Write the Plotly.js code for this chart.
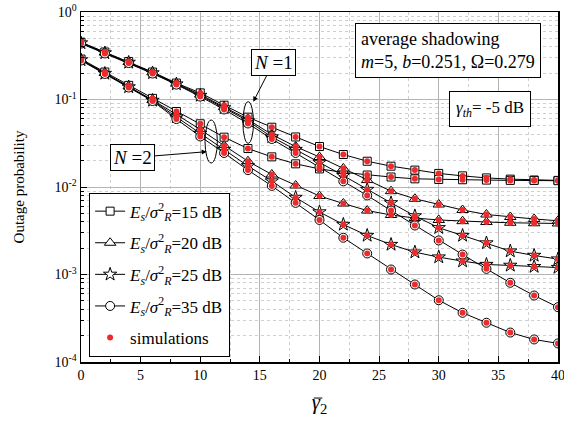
<!DOCTYPE html>
<html>
<head>
<meta charset="utf-8">
<script src="https://cdn.plot.ly/plotly-3.0.1.min.js"></script>
<style>html,body{margin:0;padding:0;background:#fff;}#chart{width:564px;height:425px;}</style>
</head>
<body>
<div id="chart"></div>
<script>
// average SNR of second hop (dB)
const gammaBar = [0,2,4,6,8,10,12,14,16,18,20,22,24,26,28,30,32,34,36,38,40];

// N = 1
const n1_15dB = [0.452,0.349,0.272,0.206,0.154,0.119,0.0861,0.0628,0.0482,0.0373,0.0290,0.0235,0.0197,0.0173,0.0156,0.0143,0.0134,0.0127,0.0123,0.0120,0.0119];
const n1_20dB = [0.448,0.344,0.268,0.204,0.152,0.114,0.0821,0.0591,0.0398,0.0290,0.0220,0.0163,0.0120,0.00896,0.00733,0.00631,0.00546,0.00485,0.00454,0.00431,0.00411];
const n1_25dB = [0.442,0.340,0.265,0.201,0.150,0.111,0.0800,0.0568,0.0373,0.0268,0.0191,0.0135,0.00936,0.00659,0.00467,0.00342,0.00279,0.00229,0.00185,0.00165,0.00150];
const n1_35dB = [0.436,0.336,0.261,0.198,0.148,0.108,0.0769,0.0532,0.0354,0.0245,0.0169,0.0116,0.00800,0.00538,0.00363,0.00245,0.00169,0.00116,0.000804,0.000575,0.000423];

// N = 2
const n2_15dB = [0.290,0.206,0.145,0.103,0.0729,0.0528,0.0371,0.0275,0.0221,0.0184,0.0161,0.0147,0.0137,0.0130,0.0124,0.0122,0.0121,0.0120,0.0119,0.0119,0.0118];
const n2_20dB = [0.286,0.201,0.141,0.0987,0.0674,0.0454,0.0298,0.0197,0.0139,0.0104,0.00789,0.00648,0.00538,0.00479,0.00442,0.00420,0.00407,0.00398,0.00390,0.00385,0.00383];
const n2_25dB = [0.283,0.198,0.139,0.0975,0.0631,0.0409,0.0268,0.0174,0.0117,0.00759,0.00518,0.00373,0.00279,0.00220,0.00180,0.00158,0.00142,0.00130,0.00127,0.00123,0.00120];
const n2_35dB = [0.279,0.196,0.137,0.0961,0.0598,0.0378,0.0245,0.0156,0.0103,0.00659,0.00420,0.00263,0.00174,0.00114,0.000769,0.000508,0.000365,0.000281,0.000217,0.000181,0.000163];

const snrLabels = ['15','20','25','35'];
const yTickVals = [1e-4,1e-3,1e-2,1e-1,1];
const yTickText = ['10<sup>-4</sup>','10<sup>-3</sup>','10<sup>-2</sup>','10<sup>-1</sup>','10<sup>0</sup>'];
const xTickVals = [0,5,10,15,20,25,30,35,40];
const xTickText = ['0','5','10','15','20','25','30','35','40'];

const symbols = ['square','triangle-up','star','circle'];
const sizes = [8,10,10,9];
const n1 = [n1_15dB,n1_20dB,n1_25dB,n1_35dB];
const n2 = [n2_15dB,n2_20dB,n2_25dB,n2_35dB];

function legName(s){
  return '<i>E</i><sub><i>s</i></sub>/<i>σ</i><sup>2</sup><sub><i>R</i></sub>=' + s + ' dB';
}

const traces = [];
for (let i=0;i<4;i++){
  [n1[i], n2[i]].forEach((ys,k)=>{
    traces.push({
      x: gammaBar, y: ys, type:'scatter', mode:'lines+markers',
      name: legName(snrLabels[i]), legendgroup:'g'+i, showlegend: k===0,
      line:{color:'#000',width:1},
      marker:{symbol:symbols[i],size:sizes[i],color:'#fff',line:{color:'#000',width:1}}
    });
  });
}
const allCurves = n1.concat(n2);
allCurves.forEach((ys,j)=>{
  traces.push({
    x: gammaBar, y: ys, type:'scatter', mode:'markers',
    name:'simulations', legendgroup:'sim', showlegend: j===0,
    marker:{symbol:'circle',size:6,color:'#ee2a2a',line:{width:0}}
  });
});

const serif = '"Liberation Serif", serif';
const layout = {
  width:564, height:425,
  margin:{l:81,r:6,t:12,b:63},
  paper_bgcolor:'#fff', plot_bgcolor:'#fff',
  font:{family:serif,color:'#000',size:14},
  showlegend:true,
  legend:{x:0.017,y:0.484,xanchor:'left',yanchor:'top',bgcolor:'#fff',bordercolor:'#000',borderwidth:1,
          font:{family:serif,size:17},tracegroupgap:6.5,traceorder:'grouped'},
  xaxis:{range:[0,40.001],tickmode:'array',tickvals:xTickVals,ticktext:xTickText,ticks:'inside',ticklen:6,tickwidth:1,tickcolor:'#000',
         ticklabeloverflow:'allow',
         showline:true,linecolor:'#000',linewidth:1.5,mirror:true,zeroline:false,
         showgrid:true,gridcolor:'#b4b4b4',gridwidth:1,
         minor:{dtick:2.5,tick0:0,ticks:'inside',ticklen:3,tickcolor:'#000',showgrid:true,gridcolor:'#cfcfcf',griddash:'dot'},
         tickfont:{size:14,family:serif},
         title:{text:'<i>γ</i><sub>2</sub>',font:{size:21,family:serif},standoff:12}},
  yaxis:{type:'log',range:[-4,0],tickvals:yTickVals,ticktext:yTickText,ticks:'inside',ticklen:6,tickwidth:1,tickcolor:'#000',
         showline:true,linecolor:'#000',linewidth:1.5,mirror:true,zeroline:false,
         showgrid:true,gridcolor:'#b4b4b4',gridwidth:1,
         minor:{tickmode:'array',tickvals:[2e-4,3e-4,4e-4,5e-4,6e-4,7e-4,8e-4,9e-4,2e-3,3e-3,4e-3,5e-3,6e-3,7e-3,8e-3,9e-3,2e-2,3e-2,4e-2,5e-2,6e-2,7e-2,8e-2,9e-2,0.2,0.3,0.4,0.5,0.6,0.7,0.8,0.9],
                ticks:'inside',ticklen:3,tickcolor:'#000',showgrid:true,gridcolor:'#cfcfcf',griddash:'dot'},
         tickfont:{size:14,family:serif},
         title:{text:'Outage probability',font:{size:15,family:serif},standoff:26}},
  shapes:[
    {type:'circle',xref:'paper',yref:'paper',x0:0.3394,x1:0.3616,y0:0.6249,y1:0.7437,line:{color:'#000',width:1}},
    {type:'circle',xref:'paper',yref:'paper',x0:0.2600,x1:0.2858,y0:0.5686,y1:0.6914,line:{color:'#000',width:1}},
    {type:'line',xref:'paper',yref:'paper',x0:0.488,x1:0.506,y0:-0.103,y1:-0.103,line:{color:'#000',width:1}}
  ],
  annotations:[
    {xref:'paper',yref:'paper',x:0.7704,y:0.89,xanchor:'center',yanchor:'middle',showarrow:false,align:'left',
     text:'average shadowing<br><i>m</i>=5, <i>b</i>=0.251, Ω=0.279',font:{size:18,family:serif},
     bgcolor:'#fff',bordercolor:'#000',borderwidth:1,borderpad:5},
    {xref:'paper',yref:'paper',x:0.858,y:0.7233,xanchor:'center',yanchor:'middle',showarrow:false,
     text:'<i>γ</i><sub><i>th</i></sub>= -5 dB',font:{size:17,family:serif},
     bgcolor:'#fff',bordercolor:'#000',borderwidth:1,borderpad:6},
    {xref:'paper',yref:'paper',x:0.3612,y:0.7437,ax:20,ay:-39,showarrow:true,arrowhead:2,arrowsize:1,arrowwidth:1,arrowcolor:'#000',
     text:'<i>N</i> =1',font:{size:19,family:serif},bgcolor:'#fff',bordercolor:'#000',borderwidth:1,borderpad:2},
    {xref:'paper',yref:'paper',x:0.2635,y:0.6009,ax:-74,ay:6,showarrow:true,arrowhead:2,arrowsize:1,arrowwidth:1,arrowcolor:'#000',
     text:'<i>N</i> =2',font:{size:19,family:serif},bgcolor:'#fff',bordercolor:'#000',borderwidth:1,borderpad:2}
  ]
};
Plotly.newPlot('chart',traces,layout,{displayModeBar:false,staticPlot:true});
</script>
</body>
</html>
